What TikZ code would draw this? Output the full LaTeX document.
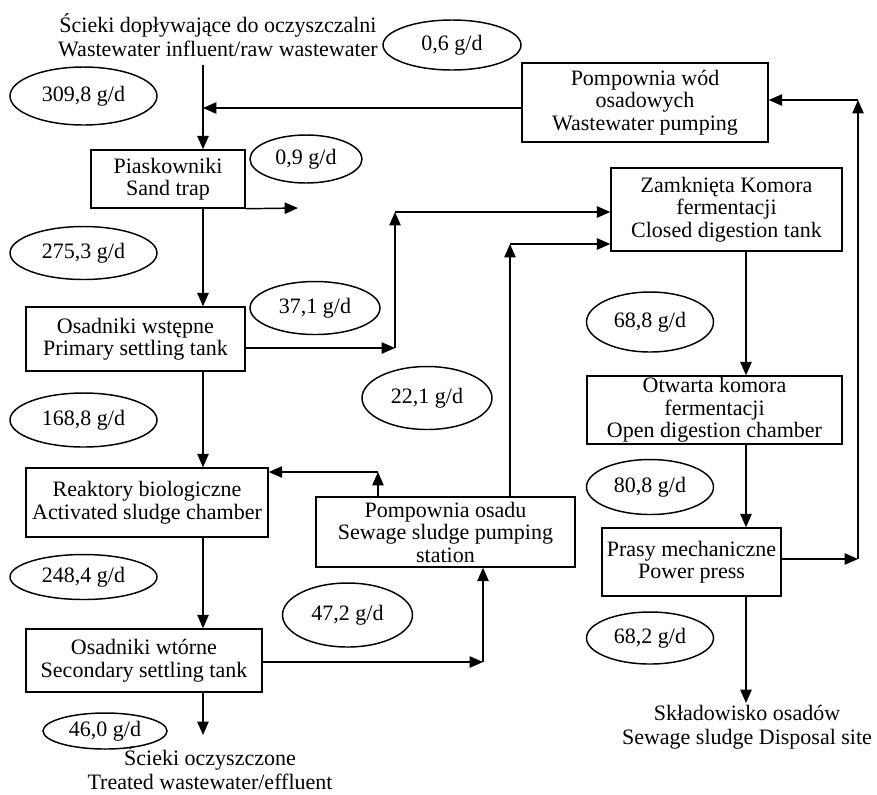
\documentclass[tikz,border=0pt]{standalone}
\usepackage{fontspec}
\setmainfont{Liberation Serif}
\usetikzlibrary{arrows.meta,shapes.geometric}
\tikzset{
  box/.style={draw,line width=1.1pt,rectangle,inner sep=0pt,align=center,font=\fontsize{16.5}{16.9}\selectfont},
  flow/.style={draw,line width=1.1pt,ellipse,inner sep=0pt,font=\fontsize{16.5}{16.9}\selectfont},
  lbl/.style={inner sep=0pt,align=center,font=\fontsize{16.5}{18}\selectfont},
  conn/.style={line width=1.1pt},
  arr/.style={line width=1.1pt,-{Triangle[length=10pt,width=8.5pt]}}
}
\begin{document}
\begin{tikzpicture}[x=0.75pt,y=-0.75pt]
\useasboundingbox (0,0) rectangle (877,794);
% boxes
\node[box,minimum width=154*0.75pt,minimum height=58*0.75pt] (pias) at (168,179) {Piaskowniki\\Sand trap};
\node[box,minimum width=219*0.75pt,minimum height=64*0.75pt] (osw) at (135.5,339) {Osadniki wstępne\\Primary settling tank};
\node[box,minimum width=242*0.75pt,minimum height=69*0.75pt] (reak) at (147,502.5) {Reaktory biologiczne\\Activated sludge chamber};
\node[box,minimum width=236*0.75pt,minimum height=63*0.75pt] (owt) at (144,660.5) {Osadniki wtórne\\Secondary settling tank};
\node[box,minimum width=259*0.75pt,minimum height=70*0.75pt] (posad) at (445.5,532) {Pompownia osadu\\Sewage sludge pumping\\station};
\node[box,minimum width=246*0.75pt,minimum height=79*0.75pt] (pwod) at (645,102.5) {Pompownia wód\\osadowych\\Wastewater pumping};
\node[box,minimum width=231*0.75pt,minimum height=83*0.75pt] (zamk) at (726.5,209.5) {Zamknięta Komora\\fermentacji\\Closed digestion tank};
\node[box,minimum width=255*0.75pt,minimum height=68*0.75pt] (otw) at (714.5,410) {Otwarta komora\\fermentacji\\Open digestion chamber};
\node[box,minimum width=179*0.75pt,minimum height=68*0.75pt] (pras) at (691.5,562) {Prasy mechaniczne\\Power press};
% ellipses
\node[flow,minimum width=147*0.75pt,minimum height=58*0.75pt] (e309) at (83.5,96) {309,8 g/d};
\node[flow,minimum width=112*0.75pt,minimum height=48*0.75pt] (e09) at (306,159) {0,9 g/d};
\node[flow,minimum width=147*0.75pt,minimum height=53*0.75pt] (e275) at (83.5,253) {275,3 g/d};
\node[flow,minimum width=130*0.75pt,minimum height=53*0.75pt] (e371) at (315,308) {37,1 g/d};
\node[flow,minimum width=147*0.75pt,minimum height=54*0.75pt] (e168) at (83.5,420) {168,8 g/d};
\node[flow,minimum width=130*0.75pt,minimum height=63*0.75pt] (e221) at (427,398) {22,1 g/d};
\node[flow,minimum width=147*0.75pt,minimum height=45*0.75pt] (e248) at (83.5,577) {248,4 g/d};
\node[flow,minimum width=130*0.75pt,minimum height=64*0.75pt] (e472) at (347.5,615) {47,2 g/d};
\node[flow,minimum width=124*0.75pt,minimum height=36*0.75pt] (e460) at (105,731) {46,0 g/d};
\node[flow,minimum width=138*0.75pt,minimum height=50*0.75pt] (e06) at (452,45) {0,6 g/d};
\node[flow,minimum width=127*0.75pt,minimum height=60*0.75pt] (e688) at (650,322) {68,8 g/d};
\node[flow,minimum width=127*0.75pt,minimum height=55*0.75pt] (e808) at (650,487) {80,8 g/d};
\node[flow,minimum width=127*0.75pt,minimum height=52*0.75pt] (e682) at (650,638) {68,2 g/d};
% free labels
\node[lbl] (tin) at (218,35) {Ścieki dopływające do oczyszczalni\\Wastewater influent/raw wastewater};
\node[lbl] (tout) at (210,768) {Ścieki oczyszczone\\Treated wastewater/effluent};
\node[lbl] (tdis) at (747,727) {Składowisko osadów\\Sewage sludge Disposal site};
% coordinates
\coordinate (mx) at (203,0);
\coordinate (rx) at (746,0);
\coordinate (inTop) at (203,65);
\coordinate (retJ) at (203,108);
\coordinate (sandOut) at (298,208);
\coordinate (pA) at (395,348);
\coordinate (pB) at (395,212);
\coordinate (rA) at (378,472);
\coordinate (sA) at (510,244);
\coordinate (wA) at (483,662);
\coordinate (effl) at (203,735);
\coordinate (qA) at (858,559);
\coordinate (qB) at (858,100);
\coordinate (disp) at (746,703);
% connectors
\draw[arr] (inTop) -- (pias.north -| mx);
\draw[arr] (pwod.west |- retJ) -- (retJ);
\draw[arr] (pias.south east) -- (sandOut);
\draw[arr] (pias.south -| mx) -- (osw.north -| mx);
\draw[arr] (osw.east |- pA) -- (pA);
\draw[arr] (pA) -- (pB);
\draw[arr] (pB) -- (zamk.west |- pB);
\draw[arr] (osw.south -| mx) -- (reak.north -| mx);
\draw[arr] (posad.north -| rA) -- (rA);
\draw[arr] (rA) -- (reak.east |- rA);
\draw[arr] (posad.north -| sA) -- (sA);
\draw[arr] (sA) -- (zamk.west |- sA);
\draw[arr] (reak.south -| mx) -- (owt.north -| mx);
\draw[arr] (owt.east |- wA) -- (wA);
\draw[arr] (wA) -- (posad.south -| wA);
\draw[arr] (owt.south -| mx) -- (effl);
\draw[arr] (zamk.south -| rx) -- (otw.north -| rx);
\draw[arr] (otw.south -| rx) -- (pras.north -| rx);
\draw[arr] (pras.east |- qA) -- (qA);
\draw[arr] (qA) -- (qB);
\draw[arr] (qB) -- (pwod.east |- qB);
\draw[arr] (pras.south -| rx) -- (disp);
\end{tikzpicture}
\end{document}
